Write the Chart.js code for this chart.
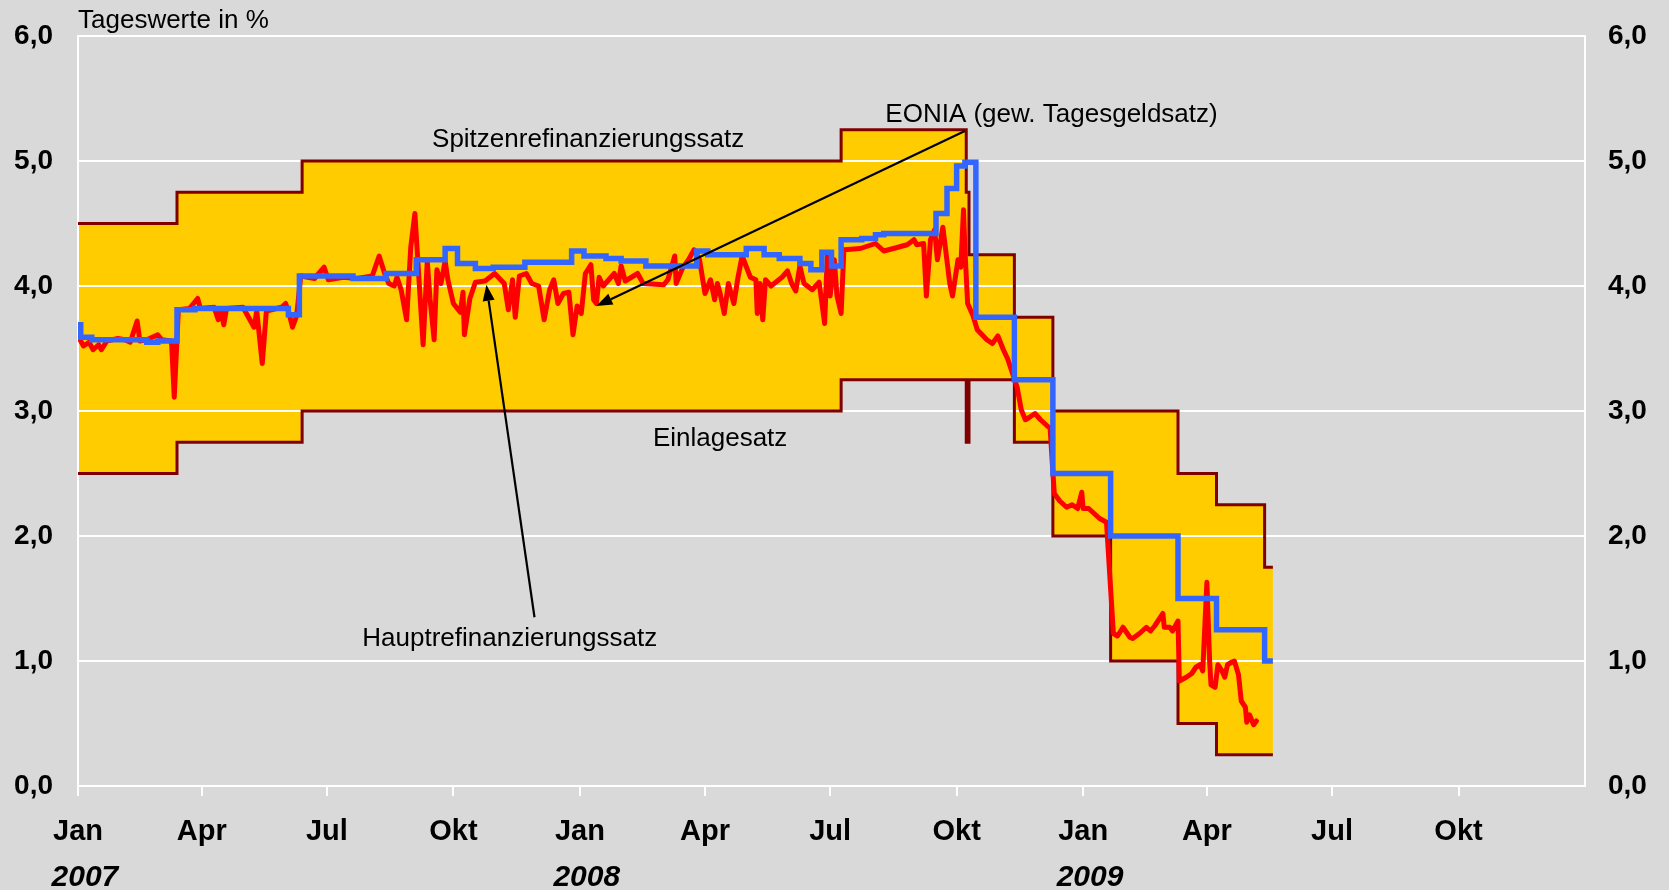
<!DOCTYPE html>
<html>
<head>
<meta charset="utf-8">
<script src="https://cdn.jsdelivr.net/npm/chart.js@4"></script>
<style>
  html, body { margin: 0; padding: 0; background: #d9d9d9; }
  #wrap { width: 1669px; height: 890px; position: relative; }
</style>
</head>
<body>
<div id="wrap"><canvas id="chart"></canvas></div>
<script>
// x values are days since 1 Jan 2007
const tickDays = [0, 90, 181, 273, 365, 456, 547, 639, 731, 821, 912, 1004];
const monthLabels = ['Jan', 'Apr', 'Jul', 'Okt', 'Jan', 'Apr', 'Jul', 'Okt', 'Jan', 'Apr', 'Jul', 'Okt'];
const yearDays = [0, 365, 731];
const yearLabels = ['2007', '2008', '2009'];

// Zinskorridor (Spitzenrefinanzierungssatz / Einlagesatz)
const corridorDays = [0, 72, 163, 555, 646, 648, 681, 709, 751, 800, 828, 863, 869];
const spitzenRate = [4.50, 4.75, 5.00, 5.25, 4.75, 4.25, 3.75, 3.00, 3.00, 2.50, 2.25, 1.75, 1.75];
const einlageRate = [2.50, 2.75, 3.00, 3.25, 2.75, 3.25, 2.75, 2.00, 1.00, 0.50, 0.25, 0.25, 0.25];

// Hauptrefinanzierungssatz (blue)
const mroDays = [0, 2, 10, 50, 58, 72, 85, 153, 161, 200, 224, 246, 267, 276, 289, 302, 325, 359, 368, 384,
  395, 413, 450, 458, 486, 499, 510, 525, 533, 541, 548, 555, 570, 580, 586, 624, 632, 639, 645, 653,
  681, 709, 751, 800, 828, 863, 869];
const mroRate = [3.69, 3.59, 3.57, 3.55, 3.56, 3.81, 3.82, 3.77, 4.08, 4.06, 4.10, 4.21, 4.30, 4.18, 4.14, 4.15, 4.19, 4.28, 4.24, 4.22,
  4.20, 4.16, 4.28, 4.25, 4.30, 4.25, 4.22, 4.18, 4.13, 4.27, 4.16, 4.37, 4.38, 4.41, 4.42, 4.58, 4.78, 4.96, 4.99, 3.75,
  3.25, 2.50, 2.00, 1.50, 1.25, 1.00, 1.00];

// EONIA (red)
const eoniaDays = [0, 4, 8, 11, 15, 17, 21, 29, 34, 38, 43, 45, 50, 58, 61, 68, 70, 73, 81, 87,
  89, 99, 102, 104, 106, 108, 120, 128, 130, 134, 137, 148, 151, 153, 156, 159, 162, 172, 179, 182,
  193, 203, 214, 219, 223, 226, 230, 232, 235, 239, 242, 245, 248, 251, 254, 256, 259, 261, 264, 267,
  269, 273, 278, 280, 281, 285, 289, 296, 303, 310, 313, 316, 318, 321, 326, 330, 335, 339, 343, 346,
  349, 353, 357, 360, 363, 366, 369, 373, 375, 377, 379, 382, 390, 393, 395, 398, 407, 411, 426, 429,
  434, 435, 438, 440, 444, 448, 452, 456, 460, 463, 465, 467, 470, 473, 477, 480, 483, 489, 493, 494,
  496, 498, 500, 504, 512, 516, 519, 522, 525, 528, 534, 539, 543, 545, 547, 550, 552, 555, 557, 569,
  580, 586, 593, 603, 608, 610, 615, 617, 620, 623, 625, 629, 634, 636, 640, 642, 644, 645, 647, 651,
  654, 661, 665, 669, 673, 676, 683, 686, 689, 692, 696, 700, 704, 707, 710, 714, 719, 723, 727, 730,
  731, 735, 739, 743, 748, 753, 756, 760, 765, 767, 772, 777, 780, 783, 789, 790, 794, 796, 800, 801,
  806, 810, 813, 816, 818, 821, 823, 824, 827, 829, 832, 834, 836, 839, 841, 844, 846, 849, 850, 852,
  855, 857];
const eoniaRate = [3.60, 3.52, 3.55, 3.49, 3.53, 3.49, 3.56, 3.58, 3.57, 3.55, 3.72, 3.56, 3.57, 3.61, 3.57, 3.56, 3.11, 3.81, 3.82, 3.90,
  3.82, 3.83, 3.73, 3.80, 3.69, 3.82, 3.83, 3.67, 3.80, 3.38, 3.80, 3.83, 3.86, 3.80, 3.67, 3.76, 4.08, 4.06, 4.15, 4.05,
  4.07, 4.06, 4.08, 4.24, 4.10, 4.02, 4.00, 4.07, 3.97, 3.73, 4.31, 4.58, 4.05, 3.53, 4.20, 3.90, 3.57, 4.13, 4.02, 4.20,
  4.05, 3.86, 3.79, 3.95, 3.61, 3.90, 4.03, 4.04, 4.10, 4.02, 3.81, 4.05, 3.75, 4.08, 4.10, 4.02, 4.00, 3.73, 3.97, 4.05,
  3.86, 3.94, 3.95, 3.61, 3.84, 3.78, 4.10, 4.17, 3.89, 3.86, 4.07, 4.00, 4.10, 4.02, 4.16, 4.04, 4.10, 4.02, 4.01, 4.05,
  4.24, 4.02, 4.10, 4.15, 4.21, 4.29, 4.21, 3.94, 4.05, 3.89, 4.02, 3.94, 3.78, 4.02, 3.86, 4.07, 4.24, 4.07, 4.05, 3.78,
  4.02, 3.73, 4.05, 4.00, 4.07, 4.12, 4.02, 3.96, 4.16, 4.02, 3.97, 4.03, 3.70, 4.26, 3.92, 4.21, 3.92, 3.78, 4.29, 4.30,
  4.34, 4.28, 4.30, 4.33, 4.37, 4.33, 4.34, 3.92, 4.37, 4.45, 4.21, 4.47, 4.02, 3.92, 4.21, 4.15, 4.61, 4.30, 3.86, 3.76,
  3.65, 3.57, 3.54, 3.60, 3.49, 3.42, 3.19, 3.01, 2.93, 2.95, 2.98, 2.93, 2.89, 2.86, 2.34, 2.28, 2.23, 2.25, 2.22, 2.35,
  2.22, 2.22, 2.18, 2.14, 2.11, 1.22, 1.20, 1.27, 1.19, 1.18, 1.22, 1.27, 1.24, 1.28, 1.38, 1.27, 1.27, 1.24, 1.32, 0.84,
  0.87, 0.90, 0.95, 0.97, 0.92, 1.63, 1.00, 0.81, 0.79, 0.97, 0.92, 0.87, 0.97, 0.99, 1.00, 0.89, 0.68, 0.63, 0.51, 0.57,
  0.49, 0.52];

const FONT = '"Liberation Sans", Arial, sans-serif';

const toXY = (days, vals) => days.map((d, i) => ({ x: d, y: vals[i] }));

// text labels and arrows, placed in data units
const notes = [
  { text: 'Spitzenrefinanzierungssatz', x: 371, y: 5.17 },
  { text: 'EONIA (gew. Tagesgeldsatz)', x: 708, y: 5.37 },
  { text: 'Einlagesatz', x: 467, y: 2.78 },
  { text: 'Hauptrefinanzierungssatz', x: 314, y: 1.18 },
];
const arrows = [
  { from: [645, 5.24], to: [377, 3.84] },
  { from: [332, 1.35], to: [297, 4.01] },
];

const notesPlugin = {
  id: 'notes',
  afterDatasetsDraw(chart) {
    const { ctx, chartArea, scales } = chart;
    const xs = scales.x, ys = scales.y;
    ctx.save();
    ctx.fillStyle = '#000';
    ctx.font = '26px ' + FONT;
    ctx.textAlign = 'left';
    ctx.textBaseline = 'alphabetic';
    ctx.fillText('Tageswerte in %', chartArea.left, chartArea.top - 8);

    ctx.textAlign = 'center';
    ctx.textBaseline = 'middle';
    notes.forEach(n => {
      ctx.fillText(n.text, xs.getPixelForValue(n.x), ys.getPixelForValue(n.y));
    });

    ctx.strokeStyle = '#000';
    ctx.lineWidth = 2.2;
    arrows.forEach(a => {
      const x1 = xs.getPixelForValue(a.from[0]), y1 = ys.getPixelForValue(a.from[1]);
      const x2 = xs.getPixelForValue(a.to[0]), y2 = ys.getPixelForValue(a.to[1]);
      const ang = Math.atan2(y2 - y1, x2 - x1);
      const len = 16, half = 6;
      const bx = x2 - len * Math.cos(ang), by = y2 - len * Math.sin(ang);
      ctx.beginPath();
      ctx.moveTo(x1, y1);
      ctx.lineTo(bx, by);
      ctx.stroke();
      ctx.beginPath();
      ctx.moveTo(x2, y2);
      ctx.lineTo(bx + half * Math.sin(ang), by - half * Math.cos(ang));
      ctx.lineTo(bx - half * Math.sin(ang), by + half * Math.cos(ang));
      ctx.closePath();
      ctx.fill();
    });
    ctx.restore();
  }
};

const yFmt = v => v.toFixed(1).replace('.', ',');

// fixed axis width, and no extra top/bottom padding from the tick labels
const fixY = w => s => { s.width = w; s.paddingTop = 0; s.paddingBottom = 0; };

new Chart(document.getElementById('chart'), {
  type: 'line',
  data: {
    datasets: [
      {
        label: 'Hauptrefinanzierungssatz',
        data: toXY(mroDays, mroRate),
        borderColor: '#3366ff',
        borderWidth: 5.5,
        stepped: true,
        pointRadius: 0,
        fill: false,
      },
      {
        label: 'EONIA',
        data: toXY(eoniaDays, eoniaRate),
        borderColor: '#ff0000',
        borderWidth: 5,
        borderJoinStyle: 'round',
        borderCapStyle: 'round',
        tension: 0,
        pointRadius: 0,
        fill: false,
      },
      {
        label: 'Spitzenrefinanzierungssatz',
        data: toXY(corridorDays, spitzenRate),
        borderColor: '#800000',
        borderWidth: 3,
        stepped: true,
        pointRadius: 0,
        backgroundColor: '#ffcc00',
        fill: '+1',
      },
      {
        label: 'Einlagesatz',
        data: toXY(corridorDays, einlageRate),
        borderColor: '#800000',
        borderWidth: 3,
        stepped: true,
        pointRadius: 0,
        fill: false,
      },
    ]
  },
  options: {
    responsive: true,
    maintainAspectRatio: false,
    animation: false,
    layout: { padding: { top: 36, left: 0, right: 0, bottom: 0 } },
    plugins: {
      legend: { display: false },
      tooltip: { enabled: false },
      filler: { drawTime: 'beforeDraw' },
    },
    scales: {
      x: {
        type: 'linear',
        min: 0,
        max: 1096,
        weight: 0,
        afterBuildTicks: s => { s.ticks = tickDays.map(v => ({ value: v })); },
        afterFit: s => { s.height = 62; },
        ticks: {
          autoSkip: false,
          maxRotation: 0,
          padding: 19,
          color: '#000',
          font: { family: FONT, size: 29, weight: 'bold' },
          callback: v => monthLabels[tickDays.indexOf(v)],
        },
        grid: { drawOnChartArea: false, drawTicks: true, tickLength: 10, color: '#ffffff', lineWidth: 2 },
        border: { color: '#ffffff', width: 2 },
      },
      x2: {
        type: 'linear',
        position: 'bottom',
        min: 0,
        max: 1096,
        weight: 1,
        // year labels sit a little right of the January tick
        afterBuildTicks: s => { s.ticks = yearDays.map(v => ({ value: v + 5 })); },
        afterFit: s => { s.height = 42; },
        ticks: {
          autoSkip: false,
          maxRotation: 0,
          padding: 12,
          color: '#000',
          font: { family: FONT, size: 30, weight: 'bold', style: 'italic' },
          callback: v => yearLabels[yearDays.indexOf(v - 5)],
        },
        grid: { display: false, drawTicks: false },
        border: { display: false },
      },
      y: {
        position: 'left',
        min: 0,
        max: 6,
        afterFit: fixY(78),
        ticks: {
          stepSize: 1,
          padding: 25,
          color: '#000',
          font: { family: FONT, size: 28, weight: 'bold' },
          callback: yFmt,
        },
        grid: { color: '#ffffff', lineWidth: 2, drawTicks: false },
        border: { color: '#ffffff', width: 2 },
      },
      y2: {
        position: 'right',
        min: 0,
        max: 6,
        afterFit: fixY(84),
        ticks: {
          stepSize: 1,
          padding: 23,
          color: '#000',
          font: { family: FONT, size: 28, weight: 'bold' },
          callback: yFmt,
        },
        grid: { display: false, drawTicks: false },
        border: { color: '#ffffff', width: 2 },
      },
    }
  },
  plugins: [notesPlugin]
});
</script>
</body>
</html>
